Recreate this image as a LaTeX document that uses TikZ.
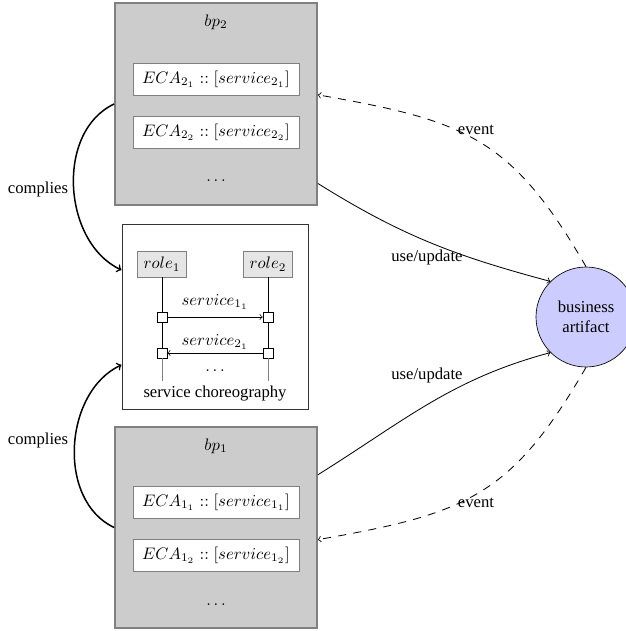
\documentclass[tikz,border=0pt]{standalone}
\usepackage{fontspec}
\setmainfont{Liberation Serif}
\usetikzlibrary{calc}
\begin{document}
\begin{tikzpicture}[x=0.6pt,y=-0.6pt,
  mathtxt/.style={font=\fontsize{10.4pt}{12.5pt}\selectfont},
  bpbox/.style={draw=gray, line width=1pt, fill=gray!40, minimum width={202*0.6pt}, minimum height={202*0.6pt}, inner sep=0pt},
  ecabox/.style={draw=gray, fill=white, minimum width={166*0.6pt}, minimum height={32*0.6pt}, inner sep=0pt, mathtxt},
  chorbox/.style={draw=black!80, line width=0.6pt, minimum width={186*0.6pt}, minimum height={185*0.6pt}, inner sep=0pt},
  rolebox/.style={draw=gray, fill=gray!20, minimum width={49*0.6pt}, minimum height={26*0.6pt}, inner sep=0pt, mathtxt},
  sq/.style={draw, fill=white, minimum size={10*0.6pt}, inner sep=0pt},
  artifact/.style={circle, draw, fill=blue!20, minimum size={100*0.6pt}, align=center, inner sep=0pt},
  lbl/.style={inner sep=1pt},
  mlbl/.style={inner sep=1pt, mathtxt},
  comply/.style={->, line width=0.9pt},
  usage/.style={->, line width=0.5pt},
  eventline/.style={->, dash pattern=on 4.8pt off 4.4pt, line width=0.5pt}
]
\useasboundingbox (0,0) rectangle (626,631);

% business process bp2
\node[bpbox] (bp2) at (216,104) {};
\node[mlbl] (t2) at (216,22) {$bp_2$};
\node[ecabox] (eca21) at (216,79) {$ECA_{2_1} :: [service_{2_1}]$};
\node[ecabox] (eca22) at (216,132) {$ECA_{2_2} :: [service_{2_2}]$};
\node[mlbl] (d2) at (216,181) {$\dots$};

% business process bp1
\node[bpbox, minimum height={201*0.6pt}] (bp1) at (216,527.5) {};
\node[mlbl] (t1) at (216,446) {$bp_1$};
\node[ecabox] (eca11) at (216,502) {$ECA_{1_1} :: [service_{1_1}]$};
\node[ecabox] (eca12) at (216,555) {$ECA_{1_2} :: [service_{1_2}]$};
\node[mlbl] (d1) at (216,605) {$\dots$};

% service choreography
\node[chorbox] (chor) at (215,316.5) {};
\node[rolebox] (role1) at (162,264) {$role_1$};
\node[rolebox] (role2) at (268,264) {$role_2$};
\node[sq] (s1a) at (162,317) {};
\node[sq] (s2a) at (268,317) {};
\node[sq] (s1b) at (162,353) {};
\node[sq] (s2b) at (268,353) {};
\coordinate (e1) at (162,381);
\coordinate (e2) at (268,381);
\draw (role1) -- (s1a) -- (s1b);
\draw (role2) -- (s2a) -- (s2b);
\draw[gray] (s1b) -- (e1);
\draw[gray] (s2b) -- (e2);
\draw[->] (s1a) -- (s2a);
\draw[->] (s2b) -- (s1b);
\node[mlbl] (m1) at (215,302) {$service_{1_1}$};
\node[mlbl] (m2) at (215,342) {$service_{2_1}$};
\node[mlbl] (m3) at (215,371) {$\dots$};
\node[lbl] (ct) at (215,394) {service choreography};

% business artifact
\node[artifact] (ba) at (586,317) {business\\artifact};

% compliance arrows
\coordinate (c2) at ($(chor.north west)!0.25!(chor.south west)$);
\coordinate (c1) at ($(chor.north west)!0.76!(chor.south west)$);
\draw[comply] (bp2.west) to[out=205,in=155] (c2);
\draw[comply] (bp1.west) to[out=155,in=205] (c1);
\node[lbl] (comp2) at (38,189) {complies};
\node[lbl] (comp1) at (38,440) {complies};

% use/update arrows
\coordinate (u2) at ($(bp2.north east)!0.89!(bp2.south east)$);
\coordinate (u1) at ($(bp1.north east)!0.24!(bp1.south east)$);
\draw[usage] (u2) to[out=-32,in=165] (ba.135);
\draw[usage] (u1) to[out=32,in=195] (ba.225);
\node[lbl] (uu2) at (427,257) {use/update};
\node[lbl] (uu1) at (427,375) {use/update};

% event arrows
\coordinate (v2) at ($(bp2.north east)!0.455!(bp2.south east)$);
\coordinate (v1) at ($(bp1.north east)!0.56!(bp1.south east)$);
\draw[eventline] (ba.north) .. controls +(120:90pt) and +(-10:90pt) .. (v2);
\draw[eventline] (ba.south) .. controls +(-120:90pt) and +(10:90pt) .. (v1);
\node[lbl] (ev2) at (476,130) {event};
\node[lbl] (ev1) at (476,503) {event};
\end{tikzpicture}
\end{document}
